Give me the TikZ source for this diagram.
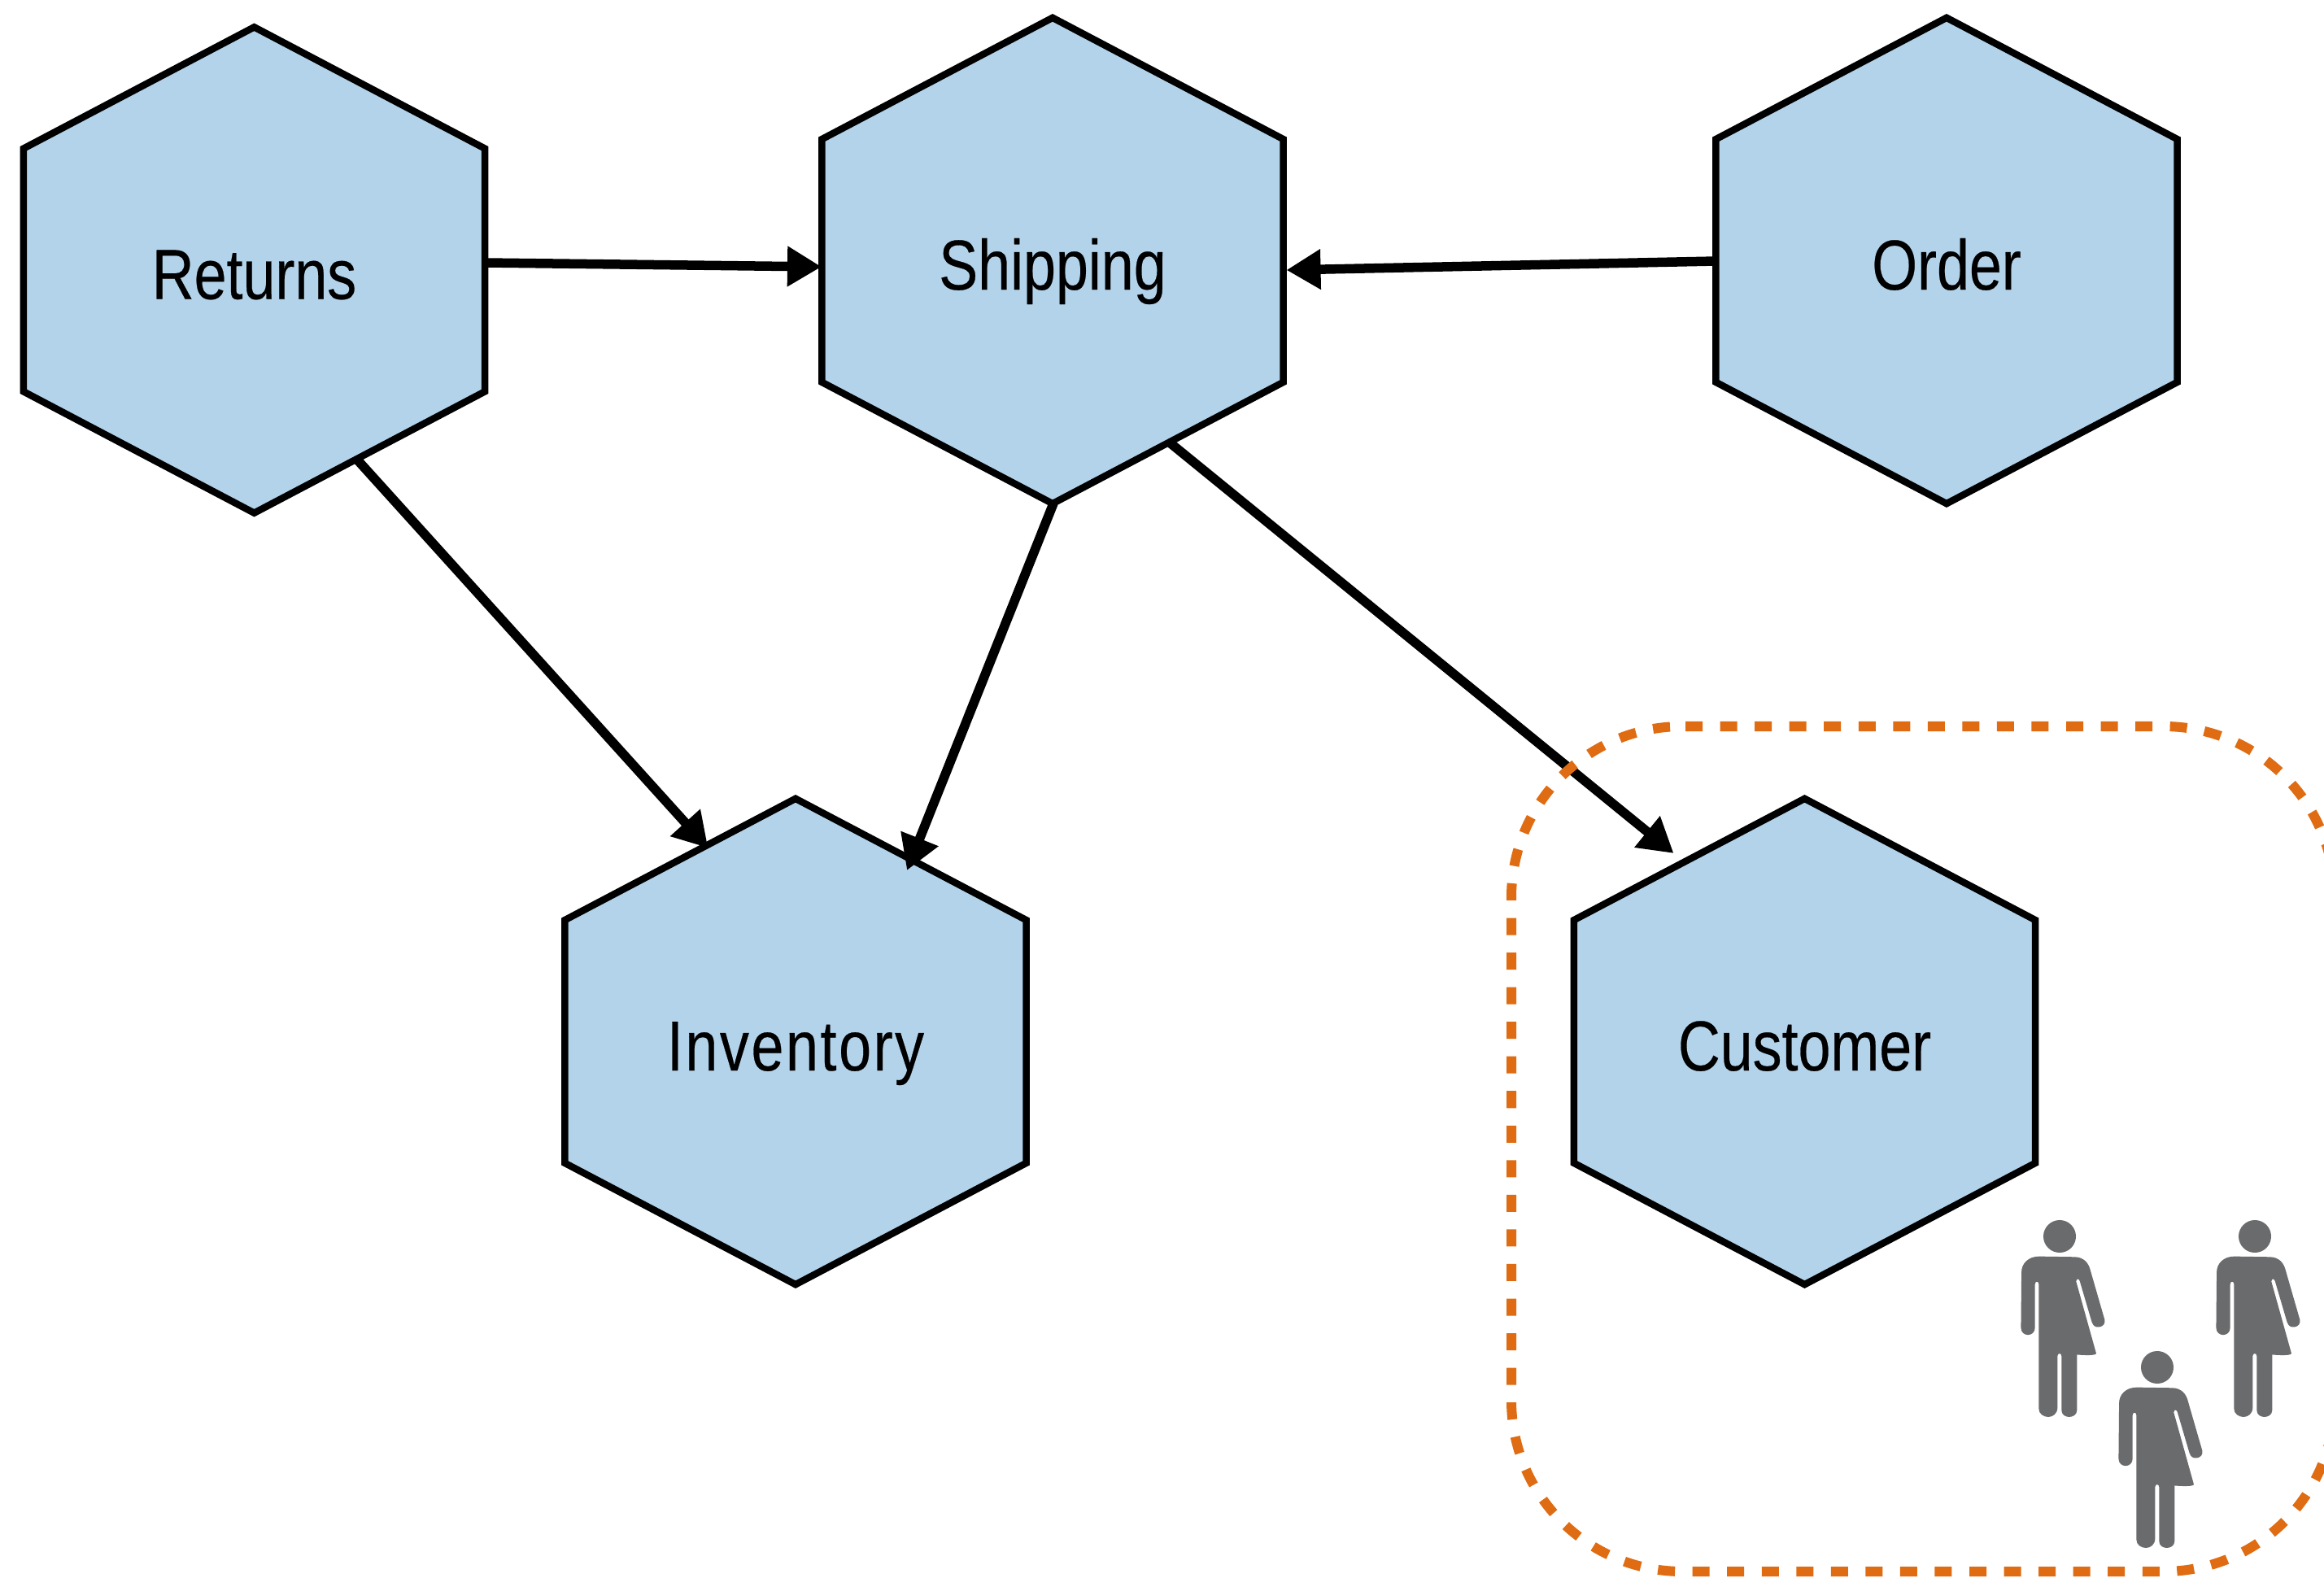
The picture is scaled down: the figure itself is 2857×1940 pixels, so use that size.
\documentclass[tikz,border=0pt]{standalone}
\usepackage{fontspec}
\setmainfont[FakeStretch=0.825,FakeBold=0.3]{Liberation Sans}
\usetikzlibrary{arrows.meta}
\definecolor{hexblue}{HTML}{B3D3EA}
\definecolor{dashorange}{HTML}{DF6C12}
\definecolor{persongray}{HTML}{6A6B6D}
\newdimen\hexL \newdimen\hexR \newdimen\hexB \newdimen\hexT \newdimen\hexM \newdimen\hexQ
\makeatletter
\pgfdeclareshape{hexcell}{
  \inheritsavedanchors[from=rectangle]
  \inheritanchorborder[from=rectangle]
  \inheritanchor[from=rectangle]{center}
  \inheritanchor[from=rectangle]{north}
  \inheritanchor[from=rectangle]{south}
  \inheritanchor[from=rectangle]{east}
  \inheritanchor[from=rectangle]{west}
  \backgroundpath{
    \southwest \hexL=\pgf@x \hexB=\pgf@y
    \northeast \hexR=\pgf@x \hexT=\pgf@y
    \hexM=.5\hexL \advance\hexM by .5\hexR
    \hexQ=\hexT \advance\hexQ by -\hexB \hexQ=.25\hexQ
    \pgfpathmoveto{\pgfqpoint{\hexM}{\hexT}}
    \pgfpathlineto{\pgfqpoint{\hexR}{\dimexpr\hexT-\hexQ\relax}}
    \pgfpathlineto{\pgfqpoint{\hexR}{\dimexpr\hexB+\hexQ\relax}}
    \pgfpathlineto{\pgfqpoint{\hexM}{\hexB}}
    \pgfpathlineto{\pgfqpoint{\hexL}{\dimexpr\hexB+\hexQ\relax}}
    \pgfpathlineto{\pgfqpoint{\hexL}{\dimexpr\hexT-\hexQ\relax}}
    \pgfpathclose
  }
}
\makeatother
\tikzset{
  service/.style={shape=hexcell, draw=black, fill=hexblue, line width=.085cm,
    minimum width=5.67cm, minimum height=5.97cm, inner sep=0pt, outer sep=0pt,
    text height=.9cm, text depth=.19cm, font=\fontsize{24.75}{30}\selectfont},
  conn/.style={draw=black, line width=.115cm, -{Triangle[length=.42cm,width=.47cm]}},
  boundary/.style={draw=dashorange, line width=.12cm, dash pattern=on .21cm off .2152cm, rounded corners=2.1cm},
  person/.pic={
    \fill[persongray] (0,0) circle[radius=.2cm];
    \fill[persongray, x=.0033333cm, y=-.0033333cm]
      (-76,74) -- (54,76) .. controls (90,76) and (108,100) .. (114,127)
      -- (166,307) .. controls (170,322) and (160,333) .. (146,335)
      .. controls (132,337) and (124,330) .. (119,317)
      -- (74,164) .. controls (70,155) and (62,155) .. (61,167)
      -- (135,432) .. controls (135,440) and (100,440) .. (64,437)
      -- (64,642) .. controls (64,658) and (50,667) .. (35,667)
      .. controls (20,667) and (7,658) .. (7,642)
      -- (7,442) .. controls (7,430) and (-8,430) .. (-8,442)
      -- (-8,632) .. controls (-8,655) and (-25,667) .. (-42,667)
      .. controls (-60,667) and (-77,655) .. (-77,637)
      -- (-77,177) .. controls (-77,164) and (-91,164) .. (-91,177)
      -- (-91,337) .. controls (-91,355) and (-105,364) .. (-117,364)
      .. controls (-130,364) and (-143,355) .. (-143,337)
      -- (-141,132) .. controls (-141,100) and (-115,74) .. (-76,74) -- cycle;
  }
}
\begin{document}
\begin{tikzpicture}[x=.01cm,y=-.01cm]
  \path[use as bounding box, clip] (0,0) rectangle (2857,1940);
  \fill[white] (0,0) rectangle (2857,1940);
  \node[service] (returns) at (312.5,332) {Returns};
  \node[service] (shipping) at (1294,320.5) {Shipping};
  \node[service] (order) at (2393,320.5) {Order};
  \node[service] (inventory) at (978,1280.5) {\addfontfeature{LetterSpace=3}Inventory};
  \node[service] (customer) at (2218.5,1280.5) {Customer};
  \draw[conn] ([shift={(283.5,-9)}]returns.center) -- ([shift={(-284,7.5)}]shipping.center);
  \draw[conn] ([shift={(126.5,233)}]returns.center) -- ([shift={(-107.5,-238)}]inventory.center);
  \draw[conn] ([shift={(1,298.5)}]shipping.center) -- ([shift={(137,-210.5)}]inventory.center);
  \draw[conn] ([shift={(145,224.5)}]shipping.center) -- ([shift={(-161,-231.5)}]customer.center);
  \draw[conn] ([shift={(-283,0.5)}]order.center) -- ([shift={(287.5,11.5)}]shipping.center);
  \draw[boundary] (2072,893) -- (2870,893) -- (2870,1932) -- (1858,1932) -- (1858,893) -- (2072,893);
  \pic at (2532,1520) {person};
  \pic at (2772,1520) {person};
  \pic at (2652,1681) {person};
\end{tikzpicture}
\end{document}
